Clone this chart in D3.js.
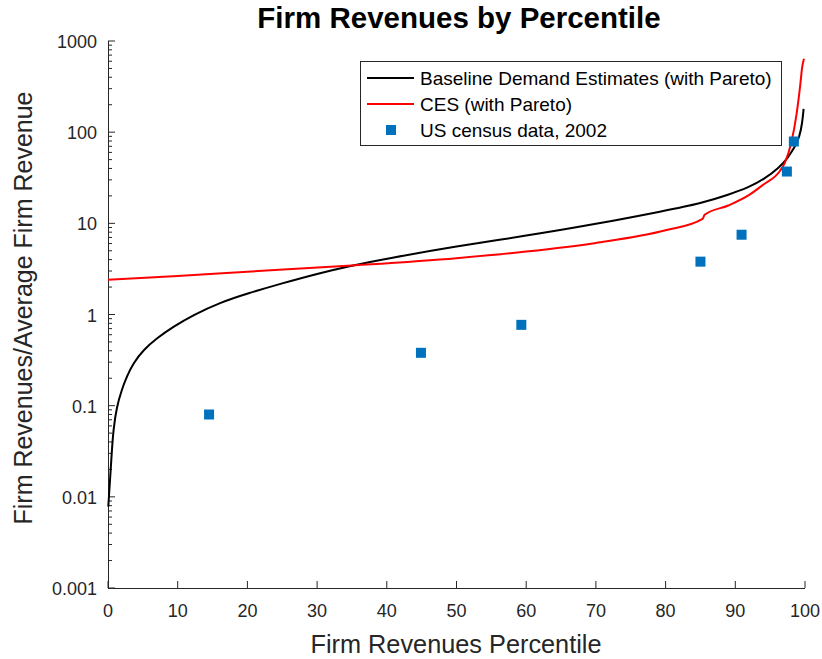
<!DOCTYPE html>
<html><head><meta charset="utf-8">
<script src="https://cdn.jsdelivr.net/npm/d3@7"></script>
<style>body{margin:0;background:#fff}svg{display:block}text{font-family:"Liberation Sans",Arial,sans-serif}</style>
</head><body><svg id="c" width="822" height="659"></svg>
<script>
// Baseline demand estimates (with Pareto)
const basePct = [0.04, 0.29, 0.53, 0.76, 1.25, 1.97, 2.68, 3.63, 5.06, 6.99, 9.37, 12.24, 16.07, 20, 25, 30, 35, 40, 50, 60, 70, 80, 85, 89, 92, 94, 96.4, 97.5, 98.5, 99.2, 99.6, 99.8];
const baseVal = [0.0078, 0.0153, 0.030, 0.054, 0.0975, 0.149, 0.208, 0.292, 0.408, 0.548, 0.734, 0.988, 1.35, 1.7, 2.2, 2.8, 3.45, 4.1, 5.6, 7.3, 9.8, 13.8, 16.5, 20.5, 25, 30, 41.5, 52, 68, 88, 125, 180];
// CES (with Pareto)
const cesPct = [0, 10, 20, 35, 50, 60, 70, 80, 85.3, 85.6, 89, 92, 94, 96.4, 97.1, 98, 98.8, 99.3, 99.6, 99.85];
const cesVal = [2.4, 2.65, 2.95, 3.45, 4.15, 4.9, 6.1, 8.4, 11.2, 12.4, 15.7, 20.5, 26.5, 37.5, 46, 75, 160, 320, 520, 640];
// US census data, 2002
const censusPct = [14.5, 44.9, 59.3, 85.0, 90.9, 97.4, 98.4];
const censusVal = [0.08, 0.38, 0.77, 3.8, 7.5, 37, 79];
const yTicks = [0.001, 0.01, 0.1, 1, 10, 100, 1000];
const yTickLabels = ["0.001", "0.01", "0.1", "1", "10", "100", "1000"];
const xTicks = [0,10,20,30,40,50,60,70,80,90,100];

const svg = d3.select("#c");
const L = 108, R = 805, T = 41, B = 588;
const x = d3.scaleLinear().domain([0,100]).range([L,R]);
const y = d3.scaleLog().domain([0.001,1000]).range([B,T]);
const ax = "#262626";

// axes
svg.append("line").attr("x1",L).attr("x2",R).attr("y1",B+0.5).attr("y2",B+0.5).attr("stroke",ax);
svg.append("line").attr("x1",L+0.5).attr("x2",L+0.5).attr("y1",T).attr("y2",B).attr("stroke",ax);
const xa = svg.append("g");
xTicks.forEach(t=>{
  xa.append("line").attr("x1",x(t)).attr("x2",x(t)).attr("y1",B).attr("y2",B-7).attr("stroke",ax);
  xa.append("text").attr("x",x(t)).attr("y",B+29).attr("text-anchor","middle").attr("font-size",18).attr("fill",ax).text(t);
});
const ya = svg.append("g");
yTicks.forEach((t,i)=>{
  ya.append("line").attr("x1",L).attr("x2",L+7).attr("y1",y(t)).attr("y2",y(t)).attr("stroke",ax);
  ya.append("text").attr("x",L-11).attr("y",y(t)+7).attr("text-anchor","end").attr("font-size",18).attr("fill",ax).text(yTickLabels[i]);
  if (i < yTicks.length-1) for (let m=2;m<=9;m++){
    const v=t*m;
    ya.append("line").attr("x1",L).attr("x2",L+4).attr("y1",y(v)).attr("y2",y(v)).attr("stroke",ax);
  }
});

// labels
svg.append("text").attr("x",459).attr("y",28).attr("text-anchor","middle").attr("font-size",29.5).attr("font-weight","bold").attr("fill","#000").text("Firm Revenues by Percentile");
svg.append("text").attr("x",456).attr("y",653).attr("text-anchor","middle").attr("font-size",25.3).attr("fill",ax).text("Firm Revenues Percentile");
svg.append("text").attr("transform","translate(32,308) rotate(-90)").attr("text-anchor","middle").attr("font-size",25).attr("fill",ax).text("Firm Revenues/Average Firm Revenue");

// lines
const lineB = d3.line().x(d=>x(d[0])).y(d=>y(d[1])).curve(d3.curveBasis);
const lineC = d3.line().x(d=>x(d[0])).y(d=>y(d[1])).curve(d3.curveMonotoneX);
svg.append("path").datum(basePct.map((p,i)=>[p,baseVal[i]])).attr("d",lineB).attr("fill","none").attr("stroke","#000").attr("stroke-width",2);
svg.append("path").datum(cesPct.map((p,i)=>[p,cesVal[i]])).attr("d",lineC).attr("fill","none").attr("stroke","#ff0000").attr("stroke-width",2);
svg.selectAll("rect.pt").data(censusPct.map((p,i)=>[p,censusVal[i]])).enter().append("rect")
  .attr("x",d=>x(d[0])-5).attr("y",d=>y(d[1])-5).attr("width",10).attr("height",10).attr("fill","#0072BD");

// legend
const lg = svg.append("g");
lg.append("rect").attr("x",360.5).attr("y",61.5).attr("width",421).attr("height",84).attr("fill","#fff").attr("stroke",ax);
const rows = [78,104,130];
lg.append("line").attr("x1",367).attr("x2",414).attr("y1",rows[0]).attr("y2",rows[0]).attr("stroke","#000").attr("stroke-width",2);
lg.append("line").attr("x1",367).attr("x2",414).attr("y1",rows[1]).attr("y2",rows[1]).attr("stroke","#ff0000").attr("stroke-width",2);
lg.append("rect").attr("x",386).attr("y",rows[2]-5).attr("width",10).attr("height",10).attr("fill","#0072BD");
["Baseline Demand Estimates (with Pareto)","CES (with Pareto)","US census data, 2002"].forEach((t,i)=>{
  lg.append("text").attr("x",420).attr("y",rows[i]+7).attr("font-size",19).attr("fill","#000").text(t);
});
</script></body></html>
